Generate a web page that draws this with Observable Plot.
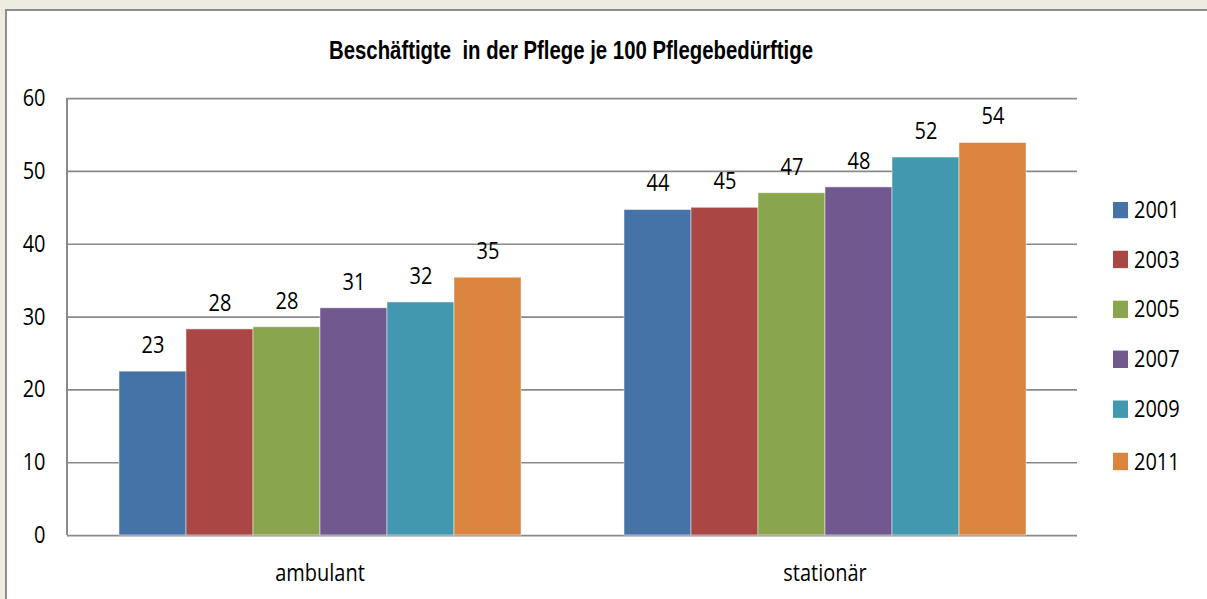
<!DOCTYPE html>
<html>
<head>
<meta charset="utf-8">
<script src="https://cdn.jsdelivr.net/npm/d3@7"></script>
<script src="https://cdn.jsdelivr.net/npm/@observablehq/plot@0.6"></script>
<style>
  html, body { margin: 0; padding: 0; background: #ffffff; overflow: hidden; }
  #wrap { position: relative; width: 1207px; height: 599px; overflow: hidden; background: #eeece1; }
  #panel { position: absolute; left: 5px; top: 9px; right: -20px; bottom: -20px; background: #ffffff; }
  #bTop { position: absolute; left: 5px; top: 9px; right: -20px; height: 2px; background: #8d8d8d; }
  #bLeft { position: absolute; left: 5px; top: 9px; width: 2px; bottom: -20px; background: #8d8d8d; }
  #stage { position: absolute; left: 0; top: 0; width: 1207px; height: 516px; transform-origin: 0 0; }
  #chart { position: absolute; left: 0; top: 0; }
  #title { position: absolute; left: 571px; white-space: pre; font-family: "Liberation Sans", Arial, sans-serif; font-weight: bold; font-size: 22px; color: #000; line-height: 1; }
  .leg { position: absolute; left: 1113px; display: flex; align-items: center; font-family: "Open Sans", sans-serif; font-size: 20px; color: #000; line-height: 1; }
  .leg .sw { width: 15px; height: 14.5px; margin-right: 6px; }
</style>
</head>
<body>
<div id="wrap">
  <div id="panel"></div>
  <div id="bTop"></div>
  <div id="bLeft"></div>
  <div id="stage">
    <div id="chart"></div>
    <div id="title"></div>
    <div id="legend"></div>
  </div>
</div>
<script>
// ---- data ----
const titleText = "Beschäftigte  in der Pflege je 100 Pflegebedürftige";
const categories = ["ambulant", "stationär"];
const years = ["2001", "2003", "2005", "2007", "2009", "2011"];
const ambulantValues = [22.5, 28.3, 28.6, 31.2, 32.0, 35.4];
const stationaerValues = [44.7, 45.0, 47.0, 47.8, 51.9, 53.9];
const ambulantLabels = ["23", "28", "28", "31", "32", "35"];
const stationaerLabels = ["44", "45", "47", "48", "52", "54"];
const yTicks = [0, 10, 20, 30, 40, 50, 60];
const colors = ["#4572a7", "#aa4643", "#89a54e", "#71588f", "#4198af", "#db843d"];

const data = [];
years.forEach((yr, i) => data.push({cat: categories[0], year: yr, value: ambulantValues[i], label: ambulantLabels[i]}));
years.forEach((yr, i) => data.push({cat: categories[1], year: yr, value: stationaerValues[i], label: stationaerLabels[i]}));

// ---- layout (the original rendering is stretched vertically) ----
const W = 1207, H = 516;
const S = 599 / H;
document.getElementById("stage").style.transform = `scaleY(${S})`;

const plot = Plot.plot({
  width: W,
  height: H,
  marginLeft: 67,
  marginRight: 130,
  marginTop: 98 / S,
  marginBottom: H - 535 / S,
  style: {fontFamily: "'Open Sans', sans-serif", fontSize: "20px", color: "#000", background: "transparent", overflow: "visible"},
  fx: {domain: categories, padding: 0, label: null},
  x: {domain: years, paddingInner: 0, paddingOuter: 0.76, axis: null},
  y: {domain: [0, 60], ticks: yTicks, label: null},
  color: {domain: years, range: colors},
  marks: [
    Plot.ruleY(yTicks, {stroke: "#8a8a8a", strokeWidth: 1.5}),
    Plot.barY(data, {fx: "cat", x: "year", y: "value", fill: "year", stroke: "#ffffff", strokeOpacity: 0.6, strokeWidth: 0.8}),
    Plot.text(data, {fx: "cat", x: "year", y: "value", text: "label", dy: -26 / S, fill: "#000", fontSize: 20}),
    Plot.axisY({ticks: yTicks, tickSize: 0, tickPadding: 22, label: null, fontSize: 20}),
    Plot.axisFx({anchor: "bottom", tickSize: 0, tickPadding: 33, lineAnchor: "middle", label: null, fontSize: 20})
  ]
});
document.getElementById("chart").appendChild(plot);

// left axis line
const ys = plot.scale("y");
d3.select(plot).append("line")
  .attr("x1", 67).attr("x2", 67)
  .attr("y1", ys.apply(60)).attr("y2", ys.apply(0))
  .attr("stroke", "#8a8a8a").attr("stroke-width", 2);

// title
const t = document.getElementById("title");
t.textContent = titleText;
const tw = t.getBoundingClientRect().width;
t.style.top = (51 / S) + "px";
t.style.transform = `translate(-50%, -50%) scaleX(${484 / tw})`;

// legend
const cs = plot.scale("color");
const leg = document.getElementById("legend");
const legCenters = [210, 259.7, 309.3, 359, 409, 461.7];
years.forEach((yr, i) => {
  const row = document.createElement("div");
  row.className = "leg";
  row.style.top = (legCenters[i] / S - 10) + "px";
  row.style.height = "20px";
  const sw = document.createElement("div");
  sw.className = "sw";
  sw.style.background = cs.apply(yr);
  const lab = document.createElement("span");
  lab.textContent = yr;
  row.appendChild(sw);
  row.appendChild(lab);
  leg.appendChild(row);
});
</script>
</body>
</html>
